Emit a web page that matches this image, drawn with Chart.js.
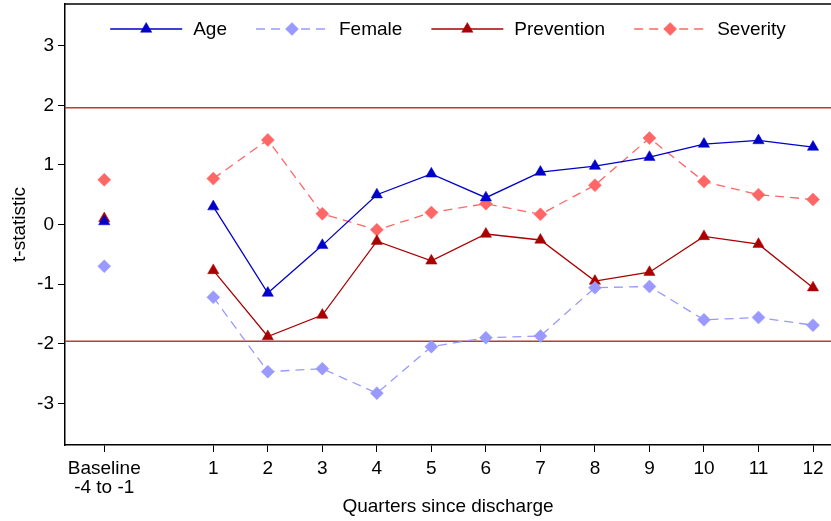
<!DOCTYPE html>
<html>
<head>
<meta charset="utf-8">
<script src="https://cdn.jsdelivr.net/npm/chart.js@4.4.1/dist/chart.umd.min.js"></script>
<style>
  html, body { margin: 0; padding: 0; background: #fff; }
  #wrap { width: 831px; height: 521px; }
</style>
</head>
<body>
<div id="wrap"><canvas id="tstatChart"></canvas></div>
<script>
// --- Data ---
const BASELINE_X = -1;
const quarters = [1, 2, 3, 4, 5, 6, 7, 8, 9, 10, 11, 12];
const yTicks = [-3, -2, -1, 0, 1, 2, 3];
const baselineLabel = ['Baseline', '-4 to -1'];

const ageBase = 0.05;
const ageValues = [0.30, -1.15, -0.35, 0.50, 0.85, 0.45, 0.88, 0.98, 1.13, 1.35, 1.41, 1.30];
const femaleBase = -0.70;
const femaleValues = [-1.22, -2.47, -2.42, -2.83, -2.05, -1.90, -1.87, -1.06, -1.04, -1.60, -1.56, -1.69];
const preventionBase = 0.10;
const preventionValues = [-0.77, -1.88, -1.52, -0.28, -0.61, -0.16, -0.26, -0.95, -0.80, -0.20, -0.33, -1.06];
const severityBase = 0.75;
const severityValues = [0.77, 1.42, 0.18, -0.09, 0.20, 0.35, 0.17, 0.66, 1.45, 0.72, 0.50, 0.42];

const critValue = 1.96;

// --- Styles ---
const FONT = '"Liberation Sans", Arial, sans-serif';
const colors = {
    age: '#0000cc',
    female: '#9999ff',
    prevention: '#aa0000',
    severity: '#ff6666',
    refLine: '#bb3b3b',
    axis: '#000000',
    text: '#000000'
};

// baseline point, a gap, then the connected quarters
const buildSeries = (base, values) => [
    { x: BASELINE_X, y: base },
    { x: 0, y: null },
    ...quarters.map((q, i) => ({ x: q, y: values[i] }))
];

const makeDataset = (label, base, values, color, marker, dashed) => ({
    label,
    data: buildSeries(base, values),
    borderColor: color,
    backgroundColor: color,
    borderWidth: 1.3,
    borderDash: dashed ? [9, 6] : [],
    pointStyle: marker,
    pointRadius: 6.5,
    pointBackgroundColor: color,
    pointBorderColor: color,
    pointBorderWidth: 0.5,
    spanGaps: false,
    tension: 0
});

// --- Plugins ---
const frameAndRefLines = {
    id: 'frameAndRefLines',
    beforeDatasetsDraw(chart) {
        const { ctx, chartArea, scales } = chart;
        ctx.save();
        ctx.strokeStyle = colors.refLine;
        ctx.lineWidth = 1.6;
        [critValue, -critValue].forEach(v => {
            const y = scales.y.getPixelForValue(v);
            ctx.beginPath();
            ctx.moveTo(chartArea.left, y);
            ctx.lineTo(chartArea.right, y);
            ctx.stroke();
        });
        // top edge of the plot frame
        ctx.strokeStyle = colors.axis;
        ctx.lineWidth = 1.5;
        ctx.beginPath();
        ctx.moveTo(chartArea.left, chartArea.top);
        ctx.lineTo(chartArea.right, chartArea.top);
        ctx.stroke();
        ctx.restore();
    }
};

const insideLegend = {
    id: 'insideLegend',
    afterDatasetsDraw(chart, args, opts) {
        const { ctx, chartArea } = chart;
        ctx.save();
        ctx.font = `19px ${FONT}`;
        const items = chart.data.datasets.map(ds => ({
            ds,
            w: opts.lineLen + opts.textGap + ctx.measureText(ds.label).width
        }));
        const total = items.reduce((s, it) => s + it.w, 0) + opts.itemGap * (items.length - 1);
        let x = (chartArea.left + chartArea.right) / 2 - total / 2;
        const y = opts.y;
        items.forEach(({ ds, w }) => {
            ctx.strokeStyle = ds.borderColor;
            ctx.lineWidth = ds.borderWidth;
            ctx.setLineDash(ds.borderDash);
            ctx.beginPath();
            ctx.moveTo(x, y);
            ctx.lineTo(x + opts.lineLen, y);
            ctx.stroke();
            ctx.setLineDash([]);

            ctx.fillStyle = ds.pointBackgroundColor;
            ctx.strokeStyle = ds.pointBorderColor;
            ctx.lineWidth = ds.pointBorderWidth;
            Chart.helpers.drawPoint(ctx, {
                pointStyle: ds.pointStyle,
                radius: ds.pointRadius,
                rotation: 0,
                borderWidth: ds.pointBorderWidth
            }, x + opts.lineLen / 2, y);

            ctx.fillStyle = colors.text;
            ctx.textAlign = 'left';
            ctx.textBaseline = 'middle';
            ctx.fillText(ds.label, x + opts.lineLen + opts.textGap, y + 1);
            x += w + opts.itemGap;
        });
        ctx.restore();
    }
};

// --- Chart ---
const ctx = document.getElementById('tstatChart').getContext('2d');
new Chart(ctx, {
    type: 'line',
    data: {
        datasets: [
            makeDataset('Age', ageBase, ageValues, colors.age, 'triangle', false),
            makeDataset('Female', femaleBase, femaleValues, colors.female, 'rectRot', true),
            makeDataset('Prevention', preventionBase, preventionValues, colors.prevention, 'triangle', false),
            makeDataset('Severity', severityBase, severityValues, colors.severity, 'rectRot', true)
        ]
    },
    options: {
        responsive: true,
        maintainAspectRatio: false,
        animation: false,
        layout: { autoPadding: false, padding: { top: 4, right: 0, bottom: 0, left: 0 } },
        plugins: {
            legend: { display: false },
            tooltip: { enabled: false },
            insideLegend: { y: 29, lineLen: 72, textGap: 11, itemGap: 29 }
        },
        scales: {
            x: {
                type: 'linear',
                min: -1.72,
                max: 12.33,
                afterBuildTicks: (axis) => {
                    axis.ticks = [BASELINE_X, ...quarters].map(v => ({ value: v }));
                },
                afterFit: (axis) => {
                    axis.height = 76;
                    axis.paddingLeft = 0;
                    axis.paddingRight = 0;
                },
                ticks: {
                    autoSkip: false,
                    maxRotation: 0,
                    padding: 7,
                    color: colors.text,
                    font: { family: FONT, size: 19, lineHeight: 1.0 },
                    callback: (v) => (v === BASELINE_X ? baselineLabel : String(v))
                },
                grid: { drawOnChartArea: false, drawTicks: true, tickLength: 7, color: colors.axis, lineWidth: 1 },
                border: { display: true, color: colors.axis, width: 1.5 },
                title: {
                    display: true,
                    text: 'Quarters since discharge',
                    color: colors.text,
                    font: { family: FONT, size: 19 },
                    padding: { top: 0, bottom: 3 }
                }
            },
            y: {
                min: -3.7,
                max: 3.7,
                afterBuildTicks: (axis) => {
                    axis.ticks = yTicks.map(v => ({ value: v }));
                },
                afterFit: (axis) => {
                    axis.width = 65;
                    axis.paddingTop = 0;
                    axis.paddingBottom = 0;
                },
                ticks: {
                    padding: 4,
                    color: colors.text,
                    font: { family: FONT, size: 19 }
                },
                grid: { drawOnChartArea: false, drawTicks: true, tickLength: 7, color: colors.axis, lineWidth: 1 },
                border: { display: true, color: colors.axis, width: 1.5 },
                title: {
                    display: true,
                    text: 't-statistic',
                    color: colors.text,
                    font: { family: FONT, size: 19 },
                    padding: { top: 8, bottom: 0 }
                }
            }
        }
    },
    plugins: [frameAndRefLines, insideLegend]
});
</script>
</body>
</html>
